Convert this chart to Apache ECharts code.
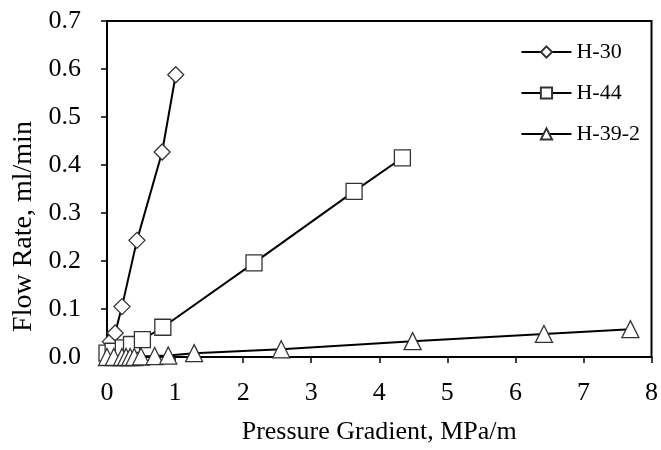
<!DOCTYPE html>
<html>
<head>
<meta charset="utf-8">
<script src="https://cdn.jsdelivr.net/npm/echarts@6/dist/echarts.min.js"></script>
<style>
html,body{margin:0;padding:0;background:#fff;}
#c{width:661px;height:450px;}
</style>
</head>
<body>
<div id="c"></div>
<script>
const seriesNames = ['H-30', 'H-44', 'H-39-2'];
const h30 = [[0.02, 0.003], [0.05, 0.032], [0.12, 0.05], [0.22, 0.105], [0.44, 0.243], [0.81, 0.427], [1.01, 0.588]];
const h44 = [[0.0, 0.008], [0.09, 0.012], [0.24, 0.019], [0.36, 0.026], [0.52, 0.036], [0.82, 0.062], [2.16, 0.196], [3.63, 0.345], [4.34, 0.415]];
const h392 = [[0.0, 0.0], [0.1, 0.0], [0.22, 0.0], [0.28, 0.0], [0.34, 0.0], [0.4, 0.0], [0.5, 0.001], [0.7, 0.002], [0.9, 0.003], [1.28, 0.008], [2.56, 0.016], [4.49, 0.033], [6.42, 0.048], [7.69, 0.058]];
const xTicks = [0, 1, 2, 3, 4, 5, 6, 7, 8];
const yTicks = [0.0, 0.1, 0.2, 0.3, 0.4, 0.5, 0.6, 0.7];
const xTitle = 'Pressure Gradient, MPa/m';
const yTitle = 'Flow Rate, ml/min';

const font = '"Liberation Serif", "Times New Roman", serif';
const chart = echarts.init(document.getElementById('c'), null, {renderer: 'canvas'});

function mk(name, data, symbol, size) {
  return {
    name: name, type: 'line', data: data, symbol: symbol, symbolSize: size,
    lineStyle: {color: '#000', width: 2},
    itemStyle: {color: '#fff', borderColor: '#333', borderWidth: 1.3},
    showAllSymbol: true, animation: false, z: 3
  };
}

chart.setOption({
  animation: false,
  backgroundColor: '#fff',
  grid: {left: 107, right: 2, top: 21, bottom: 89, show: true, borderColor: '#000', borderWidth: 2, backgroundColor: 'transparent'},
  legend: {
    right: 16, top: 36, orient: 'vertical', itemGap: 19, itemWidth: 50, itemHeight: 14,
    textStyle: {fontFamily: font, fontSize: 22, color: '#000'},
    data: seriesNames
  },
  xAxis: {
    type: 'value', min: xTicks[0], max: xTicks[xTicks.length - 1], interval: 1,
    axisLine: {onZero: false, lineStyle: {color: '#000', width: 2}},
    axisTick: {inside: false, length: 6, lineStyle: {color: '#000', width: 1.5}},
    splitLine: {show: false},
    axisLabel: {fontFamily: font, fontSize: 26, color: '#000', margin: 23},
    name: xTitle, nameLocation: 'middle', nameGap: 62,
    nameTextStyle: {fontFamily: font, fontSize: 26, color: '#000'}
  },
  yAxis: {
    type: 'value', min: yTicks[0], max: yTicks[yTicks.length - 1], interval: 0.1,
    axisLine: {lineStyle: {color: '#000', width: 2}},
    axisTick: {inside: false, length: 6, lineStyle: {color: '#000', width: 1.5}},
    splitLine: {show: false},
    axisLabel: {fontFamily: font, fontSize: 26, color: '#000', margin: 26, formatter: v => v.toFixed(1)},
    name: yTitle, nameLocation: 'middle', nameGap: 69, nameRotate: 90,
    nameTextStyle: {fontFamily: font, fontSize: 28, color: '#000', padding: [0, 0, 0, -75]}
  },
  series: [
    mk(seriesNames[0], h30, 'diamond', 16),
    mk(seriesNames[1], h44, 'rect', 16),
    mk(seriesNames[2], h392, 'triangle', 17)
  ]
});
</script>
</body>
</html>
